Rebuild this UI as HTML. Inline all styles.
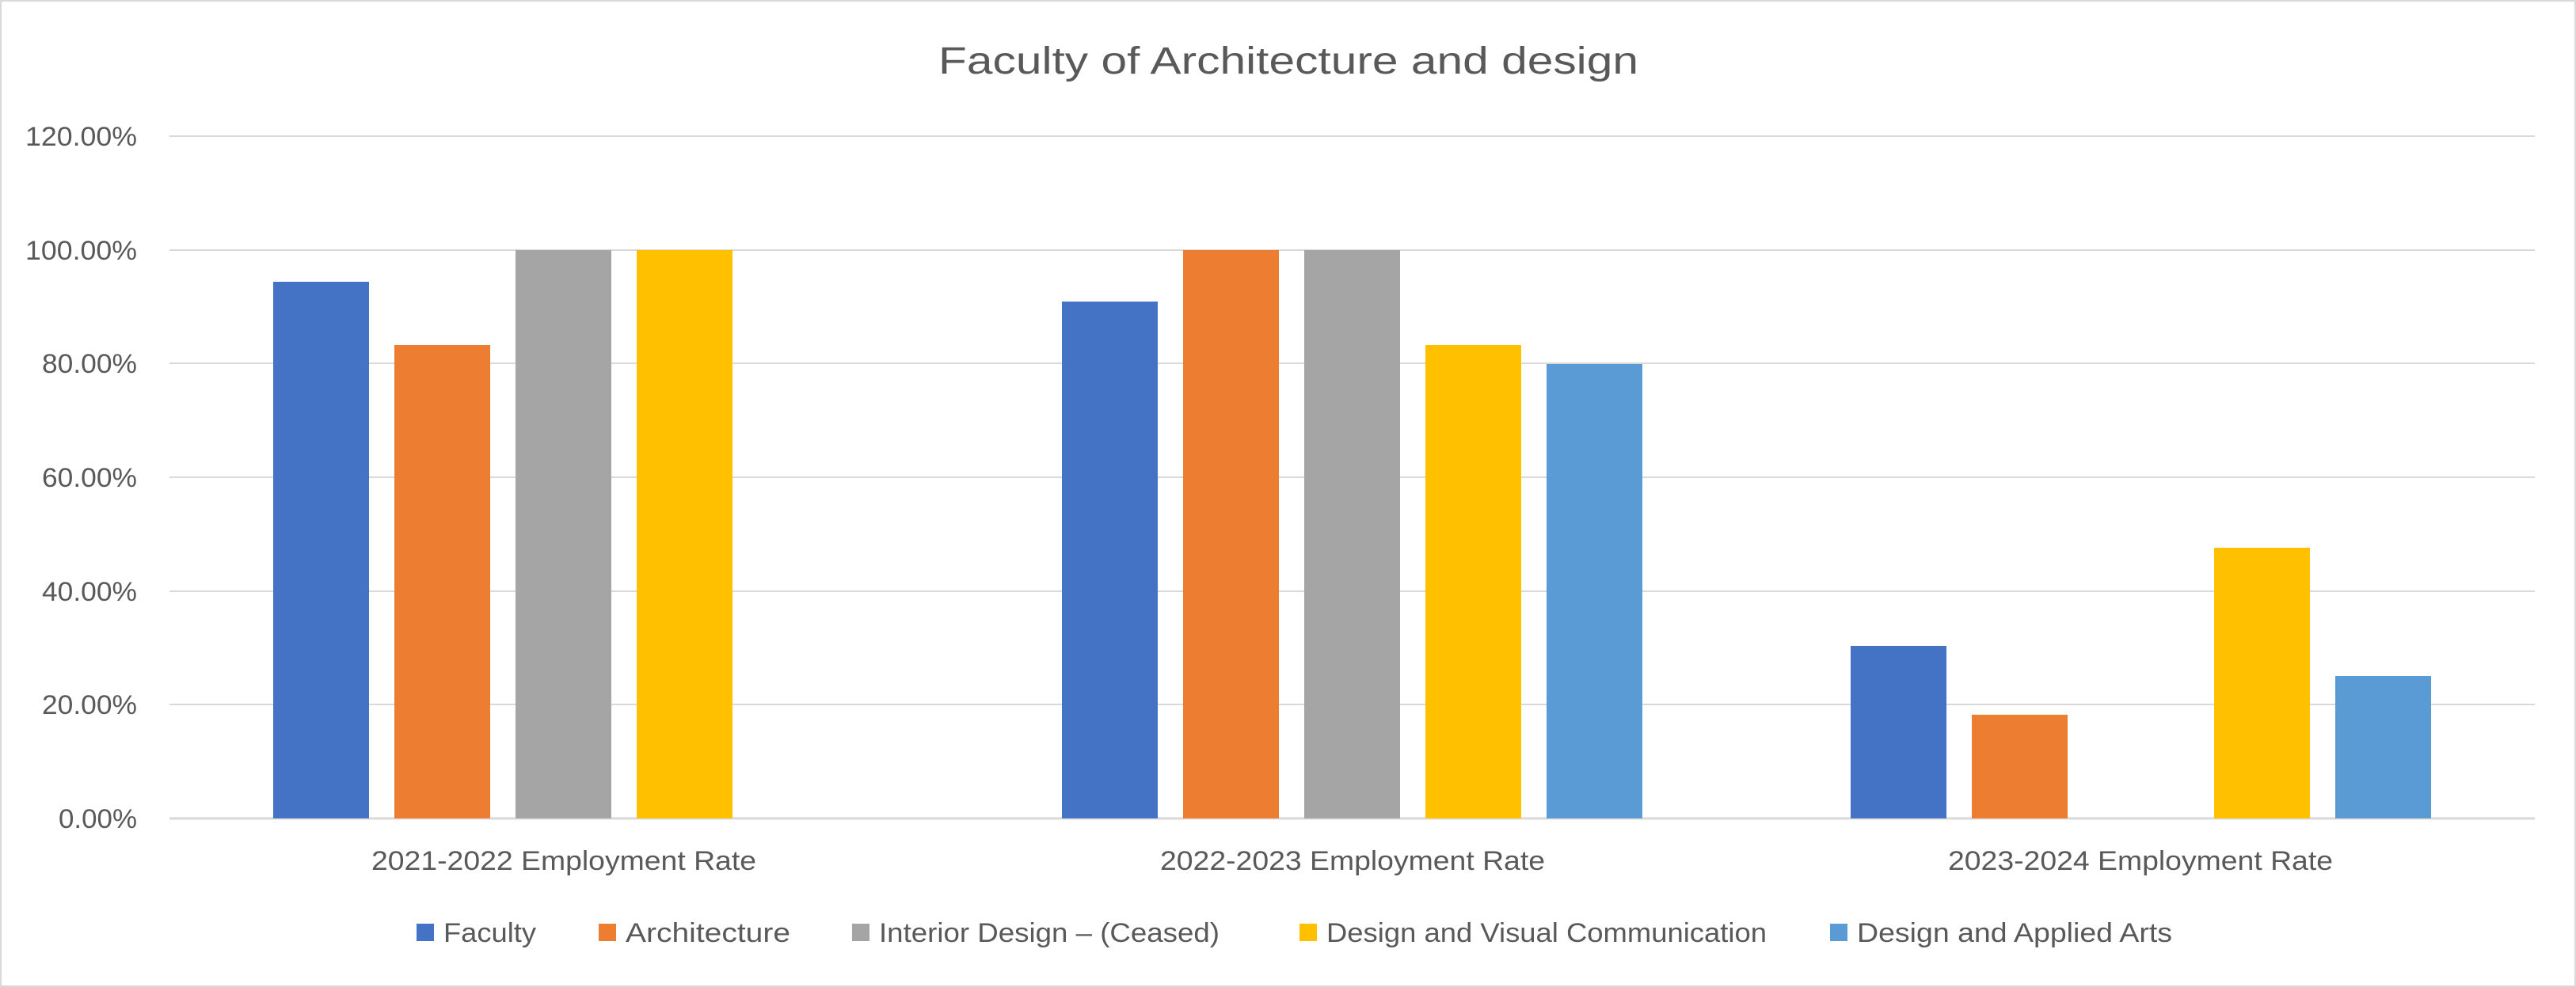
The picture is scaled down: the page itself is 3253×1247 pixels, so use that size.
<!DOCTYPE html>
<html><head><style>html,body{margin:0;padding:0;background:#fff}svg{display:block}</style></head><body>
<svg width="3253" height="1247" xmlns="http://www.w3.org/2000/svg" font-family="'Liberation Sans', sans-serif" fill="#595959">
<rect x="1" y="1" width="3251" height="1245" fill="#fff" stroke="#d9d9d9" stroke-width="2"/>
<text x="1627" y="93" font-size="48" text-anchor="middle" textLength="884" lengthAdjust="spacingAndGlyphs">Faculty of Architecture and design</text>
<g stroke="#d9d9d9" stroke-width="2">
<line x1="214" x2="3201" y1="172" y2="172"/>
<line x1="214" x2="3201" y1="316" y2="316"/>
<line x1="214" x2="3201" y1="459" y2="459"/>
<line x1="214" x2="3201" y1="603" y2="603"/>
<line x1="214" x2="3201" y1="747" y2="747"/>
<line x1="214" x2="3201" y1="890" y2="890"/>
<line x1="214" x2="3201" y1="1034" y2="1034" stroke-width="3"/>
</g>
<g font-size="34" text-anchor="end">
<text x="173" y="184" textLength="141" lengthAdjust="spacingAndGlyphs">120.00%</text>
<text x="173" y="328" textLength="141" lengthAdjust="spacingAndGlyphs">100.00%</text>
<text x="173" y="471" textLength="120" lengthAdjust="spacingAndGlyphs">80.00%</text>
<text x="173" y="615" textLength="120" lengthAdjust="spacingAndGlyphs">60.00%</text>
<text x="173" y="759" textLength="120" lengthAdjust="spacingAndGlyphs">40.00%</text>
<text x="173" y="902" textLength="120" lengthAdjust="spacingAndGlyphs">20.00%</text>
<text x="173" y="1046" textLength="99" lengthAdjust="spacingAndGlyphs">0.00%</text>
</g>
<!-- group1 -->
<rect x="345" y="356" width="121" height="678" fill="#4472c4"/>
<rect x="498" y="436" width="121" height="598" fill="#ed7d31"/>
<rect x="651" y="316" width="121" height="718" fill="#a5a5a5"/>
<rect x="804" y="316" width="121" height="718" fill="#ffc000"/>
<!-- group2 -->
<rect x="1341" y="381" width="121" height="653" fill="#4472c4"/>
<rect x="1494" y="316" width="121" height="718" fill="#ed7d31"/>
<rect x="1647" y="316" width="121" height="718" fill="#a5a5a5"/>
<rect x="1800" y="436" width="121" height="598" fill="#ffc000"/>
<rect x="1953" y="460" width="121" height="574" fill="#5b9bd5"/>
<!-- group3 -->
<rect x="2337" y="816" width="121" height="218" fill="#4472c4"/>
<rect x="2490" y="903" width="121" height="131" fill="#ed7d31"/>
<rect x="2796" y="692" width="121" height="342" fill="#ffc000"/>
<rect x="2949" y="854" width="121" height="180" fill="#5b9bd5"/>
<g font-size="34" text-anchor="middle">
<text x="712" y="1099" textLength="486" lengthAdjust="spacingAndGlyphs">2021-2022 Employment Rate</text>
<text x="1708" y="1099" textLength="486" lengthAdjust="spacingAndGlyphs">2022-2023 Employment Rate</text>
<text x="2703" y="1099" textLength="486" lengthAdjust="spacingAndGlyphs">2023-2024 Employment Rate</text>
</g>
<g font-size="34">
<rect x="526" y="1167" width="22" height="22" fill="#4472c4"/>
<text x="560" y="1190" textLength="117" lengthAdjust="spacingAndGlyphs">Faculty</text>
<rect x="756" y="1167" width="22" height="22" fill="#ed7d31"/>
<text x="790" y="1190" textLength="208" lengthAdjust="spacingAndGlyphs">Architecture</text>
<rect x="1076" y="1167" width="22" height="22" fill="#a5a5a5"/>
<text x="1110" y="1190" textLength="430" lengthAdjust="spacingAndGlyphs">Interior Design – (Ceased)</text>
<rect x="1641" y="1167" width="22" height="22" fill="#ffc000"/>
<text x="1675" y="1190" textLength="556" lengthAdjust="spacingAndGlyphs">Design and Visual Communication</text>
<rect x="2311" y="1167" width="22" height="22" fill="#5b9bd5"/>
<text x="2345" y="1190" textLength="398" lengthAdjust="spacingAndGlyphs">Design and Applied Arts</text>
</g>
</svg>
</body></html>
